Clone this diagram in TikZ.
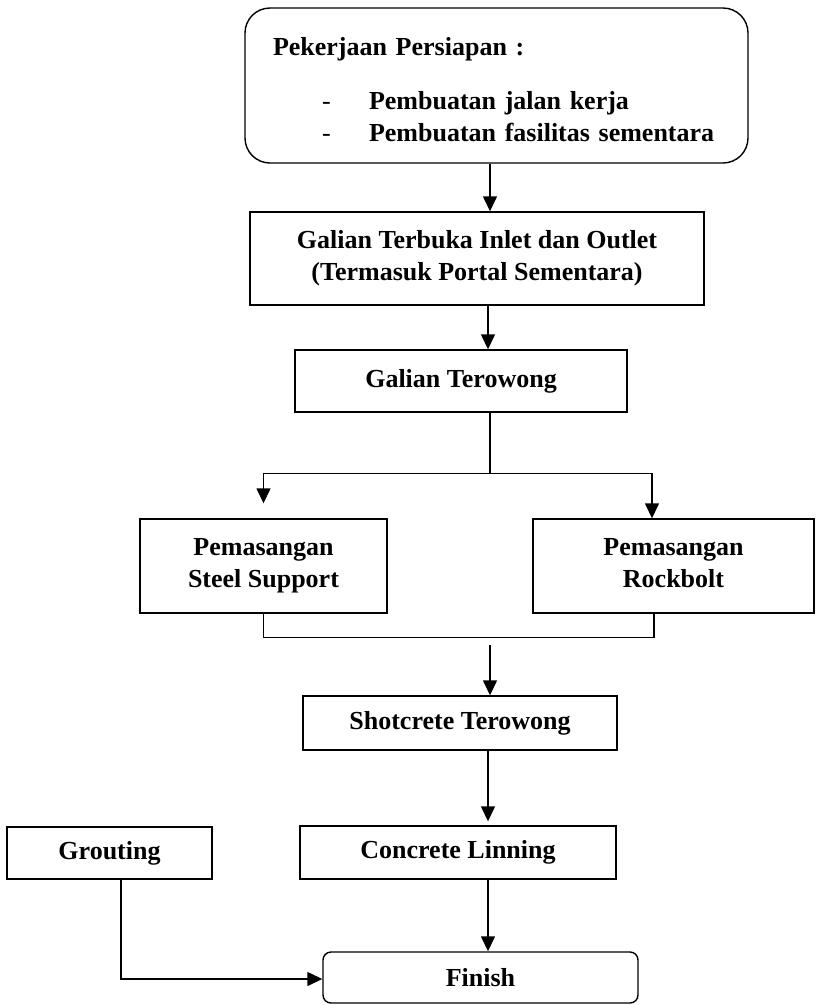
\documentclass[tikz,border=0pt]{standalone}
\usepackage{fontspec}
\setmainfont{Liberation Serif}
\usetikzlibrary{arrows.meta}

\begin{document}
\begin{tikzpicture}[
	  x=1pt, y=-1pt,
	  font=\fontsize{26}{32}\selectfont\bfseries,
	  kotak/.style={draw, line width=1.4pt, inner sep=0pt, align=center},
	  bulat/.style={kotak, rounded corners=#1},
	  panah/.style={line width=1.4pt, -{Triangle[length=15pt, width=14pt]}},
	  garis/.style={line width=1.4pt},
	]
	\useasboundingbox (0,0) rectangle (817,1005);

	\node [bulat=25pt, minimum width=503pt, minimum height=155pt, text width=447pt, align=left] (persiapan) at (496.5,85.5)
		{\rule{0pt}{26.2pt}Pekerjaan Persiapan :\\[22pt]
		\hspace*{49pt}\makebox[47pt][l]{\mdseries -}Pembuatan jalan kerja\\
		\hspace*{49pt}\makebox[47pt][l]{\mdseries -}Pembuatan fasilitas sementara};
	\node [kotak, minimum width=454pt, minimum height=93pt] (terbuka) at (477,258.5) {Galian Terbuka Inlet dan Outlet\\(Termasuk Portal Sementara)};
	\node [kotak, minimum width=332pt, minimum height=62pt] (terowong) at (461,381) {Galian Terowong};
	\node [kotak, minimum width=247pt, minimum height=94pt] (steel) at (263.5,566) {Pemasangan\\Steel Support};
	\node [kotak, minimum width=281pt, minimum height=94pt] (rockbolt) at (673.5,566) {Pemasangan\\Rockbolt\vphantom{p}};
	\node [kotak, minimum width=314pt, minimum height=54pt] (shotcrete) at (460,723) {Shotcrete Terowong};
	\node [kotak, minimum width=205pt, minimum height=52pt] (grouting) at (109.5,853) {Grouting};
	\node [kotak, minimum width=316pt, minimum height=53pt] (lining) at (458,852.5) {Concrete Linning};
	\node [bulat=8pt, minimum width=315pt, minimum height=51pt] (finish) at (480.5,977.5) {\raisebox{-3pt}{Finish}};

	\coordinate (cabang) at ([xshift=29pt,yshift=-61pt]terowong.south);
	\coordinate (gabung) at (490,645);

	\draw [panah] ([xshift=-6.5pt]persiapan.south) -- ([xshift=-6.5pt]persiapan.south |- terbuka.north);
	\draw [panah] ([xshift=11pt]terbuka.south) -- ([xshift=11pt]terbuka.south |- terowong.north);
	\draw [garis] ([xshift=29pt]terowong.south) -- (cabang);
	\draw [panah] (cabang) -| ([yshift=15pt]steel.north);
	\draw [panah] (cabang) -| ([xshift=-21.5pt]rockbolt.north);
	\draw [garis] (steel.south) -- ++(0,24) -| ([xshift=-19.5pt]rockbolt.south);
	\draw [panah] (gabung) -- (gabung |- shotcrete.north);
	\draw [panah] ([xshift=28pt]shotcrete.south) -- ([xshift=28pt,yshift=4pt]shotcrete.south |- lining.north);
	\draw [panah] ([xshift=30pt]lining.south) -- ([xshift=30pt]lining.south |- finish.north);
	\draw [panah] ([xshift=11.5pt]grouting.south) |- ([yshift=-1.5pt]finish.west);
\end{tikzpicture}
\end{document}
